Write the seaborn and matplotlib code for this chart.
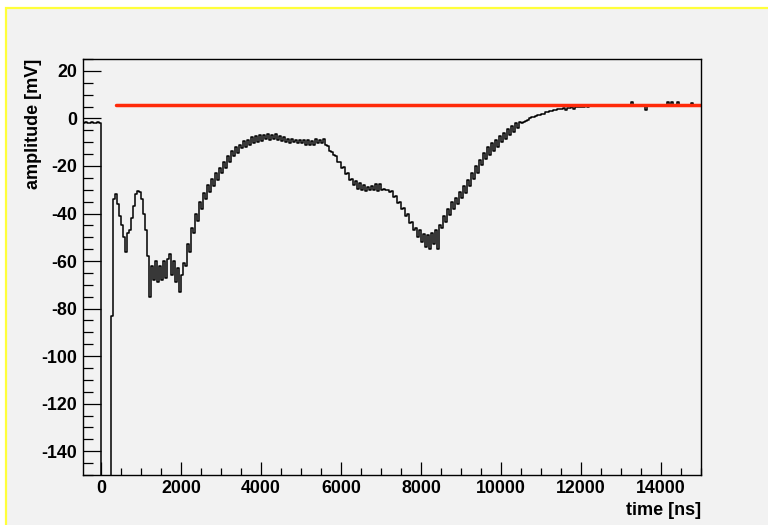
import matplotlib
matplotlib.use("Agg")
import matplotlib.pyplot as plt
from matplotlib.patches import Rectangle
from matplotlib.ticker import MultipleLocator
import numpy as np
import pandas as pd
import seaborn as sns

# waveform, 50 ns bins starting at -450 ns
bin_start = -450
bin_width = 50
pre_trigger = [-2, -1.5, -2, -2, -1.5, -2, -2, -1.5, -2]
amplitude = [
    -160, -160, -160, -160, -160, -83, -34, -32, -36, -41,
    -45, -50, -56, -48, -47, -42, -37, -32, -30.5, -31,
    -34, -40, -47, -58, -75, -62, -68, -60, -69, -62,
    -68, -60, -67, -59, -57, -66, -60, -69, -63, -73,
    -66, -61, -62, -53, -56, -46, -48, -40, -43, -35,
    -38, -31.5, -34, -28, -31, -25.5, -28.5, -23, -26, -21,
    -23, -18.5, -21, -16, -18.5, -13.5, -16, -12, -14.5, -11,
    -12.5, -9.5, -12, -9, -11, -8, -10.5, -7.5, -10, -7,
    -9.5, -7, -8.5, -6.5, -9, -7, -8.5, -6.5, -9, -7.5,
    -9.5, -8, -10, -8.5, -10.5, -8.5, -10, -9, -10.5, -9,
    -10.5, -9, -11, -9, -11, -9.5, -11, -8.5, -10.5, -9,
    -10.5, -8.5, -11, -11.5, -13.5, -14, -15.5, -16, -18.5, -18.5,
    -21, -20.5, -23.5, -23, -26, -25.5, -28, -26.5, -29.5, -27,
    -30, -28, -30.5, -29, -30, -28.5, -30, -27.5, -30.5, -27.5,
    -30, -29.5, -30, -30, -31, -30.5, -33, -32.5, -35.5, -35,
    -38, -37.5, -41, -40, -44, -43.5, -47, -46, -50, -47,
    -52, -48.5, -54, -49, -55, -48, -53, -47, -55, -45,
    -46, -41, -43.5, -38, -40.5, -35, -38, -33.5, -36, -31,
    -33.5, -28.5, -31.5, -26, -28.5, -23, -25.5, -20, -23, -17.5,
    -19.5, -14.5, -17, -12, -15.5, -10.5, -13.5, -9, -12, -7.5,
    -10, -6, -8.5, -4.5, -7, -3, -5.5, -2, -4, -1.5,
    -2, -1.5, -1, -0.5, 0, 0.5, 0.5, 1, 1.5, 1.5,
    2, 2, 2.5, 2.5, 3, 3, 3.5, 3.5, 3.8, 4,
    4, 4.2, 3.6, 4.5, 4.5, 4.7, 4.1, 4.8, 5, 5,
    5, 5, 5.2, 4.6, 5.3, 5.2, 5.3, 5.4, 5.3, 5.4,
    5.4, 5.5, 5.3, 5.5, 5.5, 5.4, 5.5, 5.6, 5.5, 5.6,
    5.5, 5.6, 5.5, 5.6, 5.5, 7.0, 5.6, 5.5, 5.6, 5.5,
    5.6, 5.5, 3.5, 5.6, 5.6, 5.5, 5.6, 5.7, 5.6, 5.6,
    5.6, 5.7, 5.6, 7.0, 5.6, 6.8, 5.7, 5.6, 7.0, 5.7,
    5.6, 5.7, 5.6, 5.7, 5.6, 6.5, 5.7, 5.6, 5.7, 5.6,
]
values = pre_trigger + amplitude
values = values + [values[-1]]  # close last bin
times = bin_start + bin_width * np.arange(len(values))

# baseline fit
base_t = [370, 15000]
base_v = [5.8, 5.8]

wave = pd.DataFrame({"time": times, "amp": values})
base = pd.DataFrame({"time": base_t, "amp": base_v})

sns.set_style("ticks")
plt.rcParams["font.family"] = ["Liberation Sans", "DejaVu Sans"]
plt.rcParams["font.weight"] = "bold"
plt.rcParams["axes.unicode_minus"] = False
plt.rcParams["text.color"] = "black"
plt.rcParams["axes.labelcolor"] = "black"

fig = plt.figure(figsize=(7.68, 5.25), dpi=100, facecolor="white")
fig.patches.append(Rectangle((6.2 / 768, -0.05), 1.2, (525 - 8) / 525 + 0.05,
                             transform=fig.transFigure, facecolor="#f2f2f2",
                             edgecolor="#ffff3a", linewidth=1.6, zorder=-10))
ax = fig.add_axes([83 / 768, 50 / 525, 618 / 768, 416 / 525])
ax.set_facecolor("#f2f2f2")

sns.lineplot(data=wave, x="time", y="amp", ax=ax, color="black", linewidth=1.1,
             drawstyle="steps-post", estimator=None, sort=False)
sns.lineplot(data=base, x="time", y="amp", ax=ax, color="#ff2a0a", linewidth=2.5,
             estimator=None)

ax.set_xlim(-450, 15000)
ax.set_ylim(-150, 25)
ax.xaxis.set_major_locator(MultipleLocator(2000))
ax.xaxis.set_minor_locator(MultipleLocator(500))
ax.yaxis.set_major_locator(MultipleLocator(20))
ax.yaxis.set_minor_locator(MultipleLocator(5))

ax.tick_params(axis="both", which="both", direction="in", width=0.9, colors="black",
               labelsize=12.8)
ax.tick_params(axis="y", which="major", length=13, pad=4.5)
ax.tick_params(axis="y", which="minor", length=7)
ax.tick_params(axis="x", which="major", length=9.5, pad=3.5)
ax.tick_params(axis="x", which="minor", length=4.8)
for lab in ax.get_xticklabels() + ax.get_yticklabels():
    lab.set_fontweight("bold")

for side in ["left", "bottom", "top", "right"]:
    ax.spines[side].set_visible(True)
    ax.spines[side].set_color("black")
    ax.spines[side].set_linewidth(1.0)

ax.set_xlabel("time [ns]", fontsize=13, fontweight="bold", loc="right")
ax.set_ylabel("amplitude [mV]", fontsize=13, fontweight="bold", loc="top")
ax.xaxis.set_label_coords(1.0, -0.064)
ax.yaxis.set_label_coords(-0.066, 1.0)

fig.savefig("out.png", dpi=100, facecolor=fig.get_facecolor())
